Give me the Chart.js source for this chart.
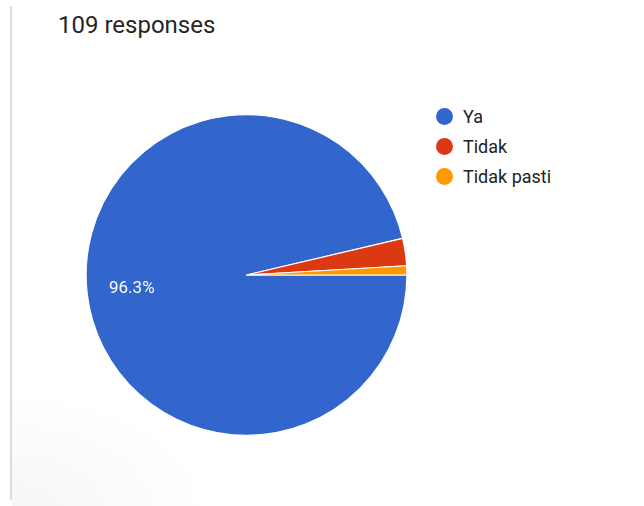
<!DOCTYPE html>
<html>
<head>
<meta charset="utf-8">
<script src="https://cdn.jsdelivr.net/npm/chart.js@4"></script>
<style>
  html, body { margin:0; padding:0; background:#fff; }
  body { width:644px; height:506px; position:relative; overflow:hidden; font-family:Roboto, "Noto Sans", sans-serif; }
  #edge { position:absolute; left:10px; top:6px; width:2px; height:494px; background:#dcdcdc; }
  #shade { position:absolute; left:12px; top:390px; width:200px; height:116px;
           background:radial-gradient(ellipse at 0% 100%, rgba(0,0,0,0.035), rgba(0,0,0,0) 70%); }
  #title { position:absolute; left:58px; top:10px; font-size:24px; color:#262626; line-height:30px; }
  #wrap { position:absolute; left:85px; top:114px; width:323px; height:322px; }
  #legend { position:absolute; left:436px; top:101px; }
  .item { height:30px; display:flex; align-items:center; font-size:18px; color:#222; }
  .dot { width:17px; height:17px; border-radius:50%; margin-right:10px; }
</style>
</head>
<body>
<div id="edge"></div>
<div id="shade"></div>
<div id="title">109 responses</div>
<div id="wrap"><canvas id="c"></canvas></div>
<div id="legend"></div>
<script>
const categories = ["Ya", "Tidak", "Tidak pasti"];
const counts = [105, 3, 1];
const colors = ["#3366CC", "#DC3912", "#FF9900"];

const legend = document.getElementById('legend');
categories.forEach((c, i) => {
  const d = document.createElement('div');
  d.className = 'item';
  d.innerHTML = '<span class="dot" style="background:' + colors[i] + '"></span><span>' + c + '</span>';
  legend.appendChild(d);
});

const total = counts.reduce((a, b) => a + b, 0);

const labelPlugin = {
  id: 'pctLabels',
  afterDatasetsDraw(chart) {
    const ctx = chart.ctx;
    const meta = chart.getDatasetMeta(0);
    meta.data.forEach((arc, i) => {
      const frac = counts[i] / total;
      if (frac < 0.05) return;
      const mid = (arc.startAngle + arc.endAngle) / 2;
      const r = arc.outerRadius * 0.72;
      const x = arc.x + Math.cos(mid) * r;
      const y = arc.y + Math.sin(mid) * r;
      ctx.save();
      ctx.fillStyle = '#ffffff';
      ctx.font = '17px Roboto';
      ctx.textAlign = 'center';
      ctx.textBaseline = 'middle';
      ctx.fillText((frac * 100).toFixed(1) + '%', x, y);
      ctx.restore();
    });
  }
};

new Chart(document.getElementById('c'), {
  type: 'pie',
  data: {
    labels: categories,
    datasets: [{
      data: counts,
      backgroundColor: colors,
      borderColor: '#ffffff',
      borderWidth: 1.2
    }]
  },
  options: {
    responsive: true,
    maintainAspectRatio: false,
    animation: false,
    rotation: 90,
    layout: { padding: 0 },
    plugins: { legend: { display: false }, tooltip: { enabled: false } }
  },
  plugins: [labelPlugin]
});
</script>
</body>
</html>
